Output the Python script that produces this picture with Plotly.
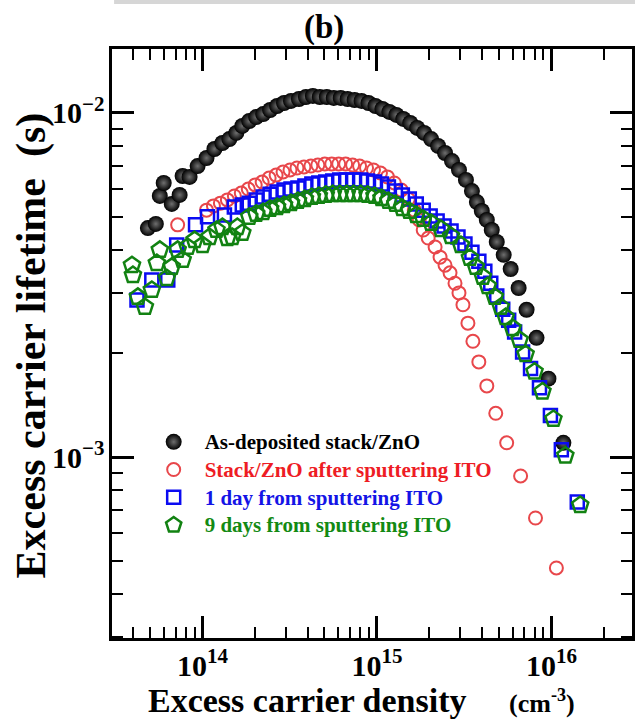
import plotly.graph_objects as go

# ---------------- data ----------------
n_asdep = [4.86e13, 5.40e13, 5.69e13, 5.99e13, 6.66e13, 7.39e13, 7.69e13, 8.43e13, 9.37e13, 1.054e14,
           1.170e14, 1.300e14, 1.425e14, 1.562e14, 1.690e14, 1.853e14, 2.031e14, 2.227e14, 2.441e14, 2.676e14,
           2.933e14, 3.215e14, 3.570e14, 3.914e14, 4.290e14, 4.703e14, 5.156e14, 5.651e14, 6.195e14, 6.791e14,
           7.444e14, 8.160e14, 8.945e14, 9.806e14, 1.075e15, 1.178e15, 1.292e15, 1.416e15, 1.552e15, 1.701e15,
           1.865e15, 2.044e15, 2.241e15, 2.456e15, 2.693e15, 2.952e15, 3.236e15, 3.502e15, 3.738e15, 3.991e15,
           4.263e15, 4.551e15, 4.860e15, 5.328e15, 5.840e15, 6.486e15, 7.204e15, 8.213e15, 9.613e15, 1.171e16]
tau_asdep = [4.63e-3, 4.76e-3, 5.74e-3, 6.26e-3, 5.44e-3, 5.78e-3, 6.56e-3, 6.52e-3, 7.01e-3, 7.40e-3,
             7.86e-3, 8.18e-3, 8.40e-3, 8.75e-3, 9.17e-3, 9.48e-3, 9.73e-3, 9.93e-3, 1.020e-2, 1.048e-2,
             1.069e-2, 1.084e-2, 1.098e-2, 1.113e-2, 1.121e-2, 1.113e-2, 1.113e-2, 1.106e-2, 1.106e-2, 1.098e-2,
             1.091e-2, 1.084e-2, 1.069e-2, 1.048e-2, 1.027e-2, 1.007e-2, 9.87e-3, 9.61e-3, 9.35e-3, 9.05e-3,
             8.75e-3, 8.40e-3, 8.02e-3, 7.65e-3, 7.25e-3, 6.83e-3, 6.39e-3, 5.93e-3, 5.51e-3, 5.19e-3,
             4.89e-3, 4.57e-3, 4.22e-3, 3.87e-3, 3.52e-3, 3.10e-3, 2.68e-3, 2.22e-3, 1.69e-3, 1.10e-3]

n_after = [7.20e13, 1.054e14, 1.155e14, 1.266e14, 1.388e14, 1.522e14, 1.668e14, 1.829e14, 2.004e14, 2.197e14,
           2.409e14, 2.641e14, 2.894e14, 3.173e14, 3.478e14, 3.813e14, 4.180e14, 4.581e14, 5.022e14, 5.504e14,
           6.034e14, 6.614e14, 7.250e14, 7.948e14, 8.713e14, 9.552e14, 1.047e15, 1.148e15, 1.258e15, 1.379e15,
           1.512e15, 1.636e15, 1.747e15, 1.841e15, 1.966e15, 2.154e15, 2.300e15, 2.456e15, 2.623e15, 2.801e15,
           2.952e15, 3.111e15, 3.322e15, 3.548e15, 3.837e15, 4.263e15, 4.797e15, 5.541e15, 6.659e15, 8.106e15,
           1.068e16]
tau_after = [4.73e-3, 5.22e-3, 5.37e-3, 5.47e-3, 5.59e-3, 5.74e-3, 5.85e-3, 6.01e-3, 6.18e-3, 6.30e-3,
             6.47e-3, 6.60e-3, 6.74e-3, 6.83e-3, 6.92e-3, 6.97e-3, 7.01e-3, 7.06e-3, 7.11e-3, 7.11e-3,
             7.11e-3, 7.11e-3, 7.06e-3, 7.01e-3, 6.92e-3, 6.83e-3, 6.69e-3, 6.52e-3, 6.26e-3, 5.97e-3,
             5.62e-3, 5.22e-3, 4.89e-3, 4.57e-3, 4.33e-3, 4.08e-3, 3.81e-3, 3.61e-3, 3.43e-3, 3.20e-3,
             3.00e-3, 2.77e-3, 2.45e-3, 2.17e-3, 1.89e-3, 1.61e-3, 1.34e-3, 1.10e-3, 8.81e-4, 6.65e-4,
             4.76e-4]

n_day1 = [4.21e13, 5.12e13, 6.32e13, 7.11e13, 9.12e13, 1.068e14, 1.335e14, 1.522e14, 1.690e14, 1.853e14,
          2.031e14, 2.227e14, 2.441e14, 2.676e14, 2.933e14, 3.215e14, 3.524e14, 3.863e14, 4.234e14, 4.642e14,
          5.088e14, 5.577e14, 6.113e14, 6.702e14, 7.346e14, 8.054e14, 8.829e14, 9.678e14, 1.061e15, 1.163e15,
          1.275e15, 1.398e15, 1.532e15, 1.680e15, 1.841e15, 2.018e15, 2.212e15, 2.424e15, 2.658e15, 2.913e15,
          3.194e15, 3.502e15, 3.837e15, 4.152e15, 4.491e15, 4.860e15, 5.259e15, 5.689e15, 6.155e15, 6.836e15,
          7.592e15, 8.543e15, 9.870e15, 1.140e16, 1.407e16]
tau_day1 = [2.86e-3, 3.27e-3, 3.27e-3, 4.13e-3, 4.73e-3, 4.99e-3, 5.05e-3, 5.33e-3, 5.40e-3, 5.47e-3,
            5.59e-3, 5.70e-3, 5.81e-3, 5.89e-3, 5.97e-3, 6.01e-3, 6.05e-3, 6.13e-3, 6.22e-3, 6.26e-3,
            6.30e-3, 6.34e-3, 6.39e-3, 6.39e-3, 6.39e-3, 6.39e-3, 6.34e-3, 6.30e-3, 6.22e-3, 6.09e-3,
            5.93e-3, 5.78e-3, 5.62e-3, 5.44e-3, 5.22e-3, 5.02e-3, 4.85e-3, 4.69e-3, 4.54e-3, 4.36e-3,
            4.16e-3, 3.94e-3, 3.71e-3, 3.47e-3, 3.20e-3, 2.94e-3, 2.69e-3, 2.50e-3, 2.31e-3, 2.02e-3,
            1.81e-3, 1.59e-3, 1.32e-3, 1.05e-3, 7.40e-4]

n_day9 = [3.94e13, 3.99e13, 4.26e13, 4.67e13, 5.12e13, 5.47e13, 5.69e13, 6.24e13, 6.66e13, 7.20e13,
          7.69e13, 8.21e13, 9.00e13, 1.000e14, 1.096e14, 1.202e14, 1.300e14, 1.388e14, 1.482e14, 1.583e14,
          1.690e14, 1.853e14, 2.031e14, 2.227e14, 2.441e14, 2.676e14, 2.933e14, 3.215e14, 3.524e14, 3.863e14,
          4.234e14, 4.642e14, 5.088e14, 5.577e14, 6.113e14, 6.702e14, 7.346e14, 8.054e14, 8.829e14, 9.678e14,
          1.061e15, 1.163e15, 1.275e15, 1.398e15, 1.532e15, 1.680e15, 1.841e15, 2.044e15, 2.331e15, 2.658e15,
          3.030e15, 3.411e15, 3.690e15, 4.045e15, 4.319e15, 4.735e15, 5.122e15, 5.468e15, 5.995e15, 6.572e15,
          7.110e15, 8.000e15, 8.886e15, 1.027e16, 1.202e16, 1.463e16]
tau_day9 = [3.61e-3, 3.38e-3, 2.92e-3, 2.73e-3, 3.06e-3, 3.66e-3, 4.00e-3, 3.31e-3, 3.57e-3, 4.00e-3,
            3.74e-3, 4.08e-3, 4.27e-3, 4.13e-3, 4.36e-3, 4.57e-3, 4.66e-3, 4.33e-3, 4.36e-3, 4.66e-3,
            4.48e-3, 4.99e-3, 5.09e-3, 5.15e-3, 5.26e-3, 5.33e-3, 5.40e-3, 5.47e-3, 5.55e-3, 5.62e-3,
            5.70e-3, 5.74e-3, 5.78e-3, 5.81e-3, 5.81e-3, 5.81e-3, 5.81e-3, 5.81e-3, 5.78e-3, 5.74e-3,
            5.66e-3, 5.55e-3, 5.44e-3, 5.29e-3, 5.19e-3, 5.05e-3, 4.92e-3, 4.79e-3, 4.60e-3, 4.39e-3,
            4.13e-3, 3.79e-3, 3.57e-3, 3.34e-3, 3.14e-3, 2.92e-3, 2.73e-3, 2.55e-3, 2.37e-3, 2.19e-3,
            1.99e-3, 1.77e-3, 1.55e-3, 1.29e-3, 1.01e-3, 7.25e-4]

series_names = ["As-deposited stack/ZnO", "Stack/ZnO after sputtering ITO",
                "1 day from sputtering ITO", "9 days from sputtering ITO"]
text_colors = ["#000000", "#ee1c24", "#1414e6", "#138a13"]

# ---------------- styling ----------------
FONT = "Liberation Serif, Times New Roman, Times, serif"
RED = "#e8474b"
BLUE = "#0b0bf2"
GREEN = "#128212"

fig = go.Figure()

def lname(i):
    return '<span style="color:%s;font-size:21px">%s</span>' % (text_colors[i], series_names[i])

fig.add_trace(go.Scatter(
    x=n_asdep, y=tau_asdep, mode="markers", name=lname(0),
    marker=dict(symbol="circle", size=16, color="black",
                gradient=dict(type="radial", color="#6f6f6f"), line=dict(width=0))))
fig.add_trace(go.Scatter(
    x=n_after, y=tau_after, mode="markers", name=lname(1),
    marker=dict(symbol="circle-open", size=13, color=RED, line=dict(width=2, color=RED))))
fig.add_trace(go.Scatter(
    x=n_day1, y=tau_day1, mode="markers", name=lname(2),
    marker=dict(symbol="square-open", size=13, color=BLUE, line=dict(width=2.5, color=BLUE))))
fig.add_trace(go.Scatter(
    x=n_day9, y=tau_day9, mode="markers", name=lname(3),
    marker=dict(symbol="pentagon-open", size=17, color=GREEN, line=dict(width=2.5, color=GREEN))))

axis_common = dict(
    type="log", showline=True, linecolor="black", linewidth=2.5, mirror="ticks",
    ticks="inside", ticklen=22, tickwidth=2.5, tickcolor="black", dtick=1,
    exponentformat="power", showexponent="all", showgrid=False, zeroline=False,
    tickfont=dict(family=FONT, size=24, color="black", weight="bold"),
    minor=dict(ticks="inside", ticklen=11, tickwidth=2, tickcolor="black", dtick="D1", showgrid=False),
)

fig.update_layout(
    width=635, height=722,
    margin=dict(l=112, r=0, t=49, b=84),
    paper_bgcolor="white", plot_bgcolor="white",
    showlegend=True,
    legend=dict(x=0.059, y=0.365, xanchor="left", yanchor="top", bgcolor="rgba(0,0,0,0)",
                font=dict(family=FONT, size=19, weight="bold", color="black"),
                itemwidth=52, tracegroupgap=0),
    xaxis=dict(range=[13.481, 16.462], ticklabelstandoff=0, **axis_common),
    yaxis=dict(range=[-3.526, -1.814], **axis_common),
    annotations=[
        dict(text="<b>(b)</b>", xref="paper", yref="paper", x=0.408, y=1.036,
             xanchor="center", yanchor="middle", showarrow=False,
             font=dict(family=FONT, size=33, color="black")),
        dict(text='<b>Excess carrier density</b>&nbsp;&nbsp;&nbsp;&nbsp;&nbsp;'
                  '<b><span style="font-size:26px">(cm<sup>-3</sup>)</span></b>',
             xref="paper", yref="paper", x=0.48, y=-0.106,
             xanchor="center", yanchor="middle", showarrow=False,
             font=dict(family=FONT, size=34, color="black")),
        dict(text='<b>Excess carrier lifetime</b>&nbsp;&nbsp;<b>(s)</b>',
             xref="paper", yref="paper", x=-0.153, y=0.4975, textangle=-90,
             xanchor="center", yanchor="middle", showarrow=False,
             font=dict(family=FONT, size=42, color="black")),
    ],
    shapes=[dict(type="rect", xref="paper", yref="paper", x0=0.004, x1=1.01, y0=1.0764, y1=1.0832,
                 fillcolor="#d6d6d6", line=dict(width=0), layer="above")],
)

fig.write_html("out.html")
